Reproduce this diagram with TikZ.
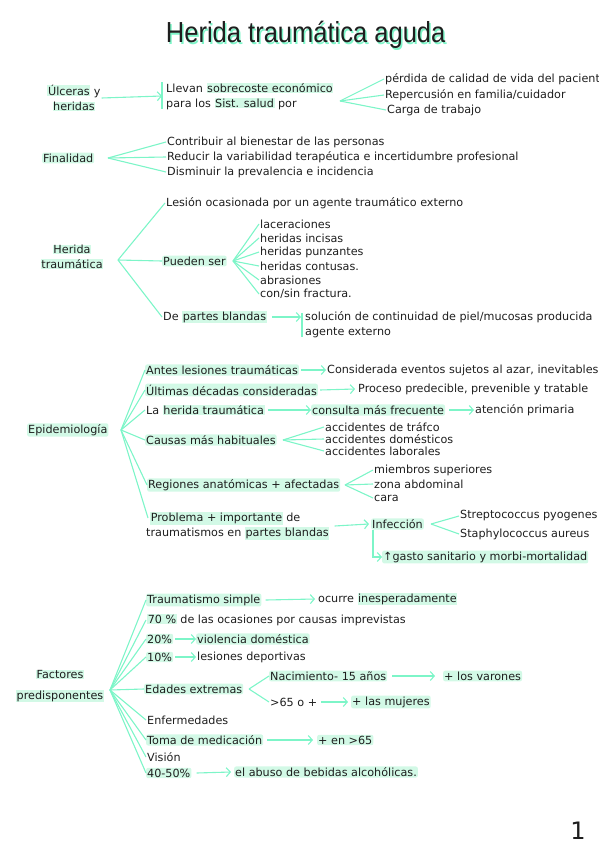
\documentclass[tikz,border=0pt]{standalone}
\usepackage{fontspec}
\usepackage{graphicx}
\setmainfont{DejaVu Sans}
\newfontfamily\titlefont{Liberation Sans}
\usetikzlibrary{arrows.meta}
\definecolor{mint}{HTML}{7DF5C8}
\definecolor{hl}{HTML}{D2F9E6}
\definecolor{ink}{HTML}{1E1E1E}
\newcommand{\hlt}[1]{{\setlength{\fboxsep}{0.6pt}\colorbox{hl}{#1}}}
\newcommand{\titletext}{\scalebox{0.88}[1]{Herida traumática aguda}}
\begin{document}
\begin{tikzpicture}[x=1pt,y=-1pt,
  tx/.style={anchor=west, inner sep=1pt, text=ink, font=\fontsize{11.2}{15}\selectfont},
  hb/.style={tx, fill=hl, rounded corners=2pt},
  ctr/.style={anchor=center, align=center},
  ln/.style={draw=mint, line width=1.1pt},
  ar/.style={ln, -{Straight Barb[length=4pt,width=9pt,line width=1.1pt]}}]
\useasboundingbox (0,0) rectangle (599,848);
% title with mint shadow (one node)
\node[text=ink, font=\titlefont\fontsize{29}{32}\selectfont] (title) at (305.7,36) {\makebox[0pt][l]{\hspace{1.5pt}\raisebox{-2pt}{\color{mint}\titletext}}\titletext};
% block 1
\node[tx, ctr] (ulc) at (74,98) {\hlt{Úlceras} y\\\hlt{heridas}};
\node[tx, align=left] (llev) at (165,96) {Llevan \hlt{sobrecoste económico}\\para los \hlt{Sist. salud} por};
\draw[ln] ([xshift=-3pt,yshift=-1pt]llev.north west) -- ([xshift=-3pt,yshift=2pt]llev.south west);
\draw[ar] (ulc.east) -- ([xshift=-3pt]llev.west);
\coordinate (f1) at (340,101);
\node[tx] (p1) at (384,79) {pérdida de calidad de vida del pacient};
\node[tx] (p2) at (384,95) {Repercusión en familia/cuidador};
\node[tx] (p3) at (386,110) {Carga de trabajo};
\foreach \n in {p1,p2,p3} \draw[ln] (f1) -- (\n.west);
% block 2
\node[hb] (fin) at (42,158) {Finalidad};
\coordinate (f2) at (108,158);
\node[tx] (c1) at (166,142) {Contribuir al bienestar de las personas};
\node[tx] (c2) at (166,157) {Reducir la variabilidad terapéutica e incertidumbre profesional};
\node[tx] (c3) at (166,172) {Disminuir la prevalencia e incidencia};
\foreach \n in {c1,c2,c3} \draw[ln] (f2) -- (\n.west);
% block 3
\node[tx, ctr] (her) at (72,257) {\hlt{Herida}\\\hlt{traumática}};
\coordinate (f3) at (118,260);
\node[tx] (les) at (165,203) {Lesión ocasionada por un agente traumático externo};
\node[hb] (pue) at (162,261) {Pueden ser};
\node[tx] (dpb) at (162,317) {De \hlt{partes blandas}};
\foreach \n in {les,pue,dpb} \draw[ln] (f3) -- (\n.west);
\coordinate (f4) at (233,261);
\node[tx] (q1) at (259,224) {laceraciones};
\node[tx] (q2) at (259,238) {heridas incisas};
\node[tx] (q3) at (259,252) {heridas punzantes};
\node[tx] (q4) at (259,266) {heridas contusas.};
\node[tx] (q5) at (259,280) {abrasiones};
\node[tx] (q6) at (259,294) {con/sin fractura.};
\foreach \n in {q1,q2,q3,q4,q5,q6} \draw[ln] (f4) -- (\n.west);
\node[tx, align=left] (sol) at (304,325) {solución de continuidad de piel/mucosas producida\\agente externo};
\draw[ln] ([xshift=-2pt,yshift=-2pt]sol.north west) -- ([xshift=-2pt,yshift=2pt]sol.south west);
\draw[ar] ([xshift=4pt]dpb.east) -- ([xshift=-3pt]dpb.east -| sol.west);
% block 4
\node[hb] (epi) at (27,430) {Epidemiología};
\coordinate (f5) at (121,430);
\node[hb] (e1) at (145,370) {Antes lesiones traumáticas};
\node[hb] (e2) at (145,390) {Últimas décadas consideradas};
\node[tx] (e3) at (145,410) {La \hlt{herida traumática}};
\node[hb] (e4) at (145,440) {Causas más habituales};
\node[hb] (e5) at (147,485) {Regiones anatómicas + afectadas};
\node[tx, align=left] (e6) at (145,526) {\hspace{4pt}\hlt{Problema + importante} de\\traumatismos en \hlt{partes blandas}};
\foreach \n in {e1,e2,e3,e4,e5} \draw[ln] (f5) -- (\n.west);
\draw[ln] (f5) -- ([xshift=3pt,yshift=8pt]e6.west);
\node[tx] (k1) at (326,370) {Considerada eventos sujetos al azar, inevitables};
\node[tx] (k2) at (357,389) {Proceso predecible, prevenible y tratable};
\node[hb] (k3) at (311,410) {consulta más frecuente};
\node[tx] (k4) at (474,410) {atención primaria};
\draw[ar] ([xshift=2pt]e1.east) -- (k1.west);
\draw[ar] ([xshift=2pt]e2.east) -- ([xshift=-2pt]k2.west);
\draw[ar] ([xshift=2pt]e3.east) -- (k3.west);
\draw[ar] ([xshift=4pt]k3.east) -- (k4.west);
\coordinate (f6) at (283,440);
\node[tx] (a1) at (324,427) {accidentes de tráfco};
\node[tx] (a2) at (324,439) {accidentes domésticos};
\node[tx] (a3) at (324,451) {accidentes laborales};
\foreach \n in {a1,a2,a3} \draw[ln] (f6) -- (\n.west);
\coordinate (f7) at (345,485);
\node[tx] (r1) at (373,470) {miembros superiores};
\node[tx] (r2) at (373,484) {zona abdominal};
\node[tx] (r3) at (373,498) {cara};
\foreach \n in {r1,r2,r3} \draw[ln] (f7) -- (\n.west);
\node[hb] (inf) at (371,524) {Infección};
\draw[ar] ([xshift=4pt]e6.east) -- ([xshift=-2pt]inf.west);
\coordinate (f8) at (431,524);
\node[tx] (s1) at (459,516) {Streptococcus pyogenes};
\node[tx] (s2) at (459,534) {Staphylococcus aureus};
\foreach \n in {s1,s2} \draw[ln] (f8) -- (\n.west);
\node[hb] (gas) at (382,557) {↑gasto sanitario y morbi-mortalidad};
\draw[ar] ([xshift=2pt]inf.south west) |- (gas.west);
% block 5
\node[tx, ctr, font=\fontsize{11.2}{21}\selectfont] (fac) at (60,686) {\hlt{Factores}\\\hlt{predisponentes}};
\coordinate (f9) at (110,690);
\node[hb] (t1) at (146,600) {Traumatismo simple};
\node[tx] (t2) at (146,620) {\hlt{70 \%} de las ocasiones por causas imprevistas};
\node[hb] (t3) at (146,639) {20\%};
\node[hb] (t4) at (146,657) {10\%};
\node[hb] (t5) at (144,689) {Edades extremas};
\node[tx] (t6) at (146,720) {Enfermedades};
\node[hb] (t7) at (146,740) {Toma de medicación};
\node[tx] (t8) at (146,757) {Visión};
\node[hb] (t9) at (146,773) {40-50\%};
\foreach \n in {t1,t2,t3,t4,t5,t6,t7,t8,t9} \draw[ln] (f9) -- (\n.west);
\node[tx] (o1) at (317,599) {ocurre \hlt{inesperadamente}};
\draw[ar] ([xshift=4pt]t1.east) -- ([xshift=-2pt]o1.west);
\node[hb] (v1) at (196,639) {violencia doméstica};
\node[tx] (v2) at (196,657) {lesiones deportivas};
\draw[ar] ([xshift=2pt]t3.east) -- (v1.west);
\draw[ar] ([xshift=2pt]t4.east) -- (v2.west);
\coordinate (f10) at (249,689);
\node[hb] (n1) at (269,676) {Nacimiento- 15 años};
\node[tx] (n3) at (269,702) {>65 o +};
\foreach \n in {n1,n3} \draw[ln] (f10) -- (\n.west);
\node[hb] (n2) at (443,676) {+ los varones};
\node[hb] (n4) at (351,702) {+ las mujeres};
\draw[ar] ([xshift=5pt]n1.east) -- ([xshift=-8pt]n2.west);
\draw[ar] ([xshift=3pt]n3.east) -- ([xshift=-3pt]n4.west);
\node[hb] (m1) at (317,740) {+ en >65};
\draw[ar] ([xshift=4pt]t7.east) -- ([xshift=-4pt]m1.west);
\node[hb] (al) at (234,772) {el abuso de bebidas alcohólicas.};
\draw[ar] ([xshift=5pt]t9.east) -- ([xshift=-3pt]al.west);
% page number
\node[text=ink, font=\fontsize{24}{26}\selectfont] (pg) at (578,831) {1};
\end{tikzpicture}
\end{document}
